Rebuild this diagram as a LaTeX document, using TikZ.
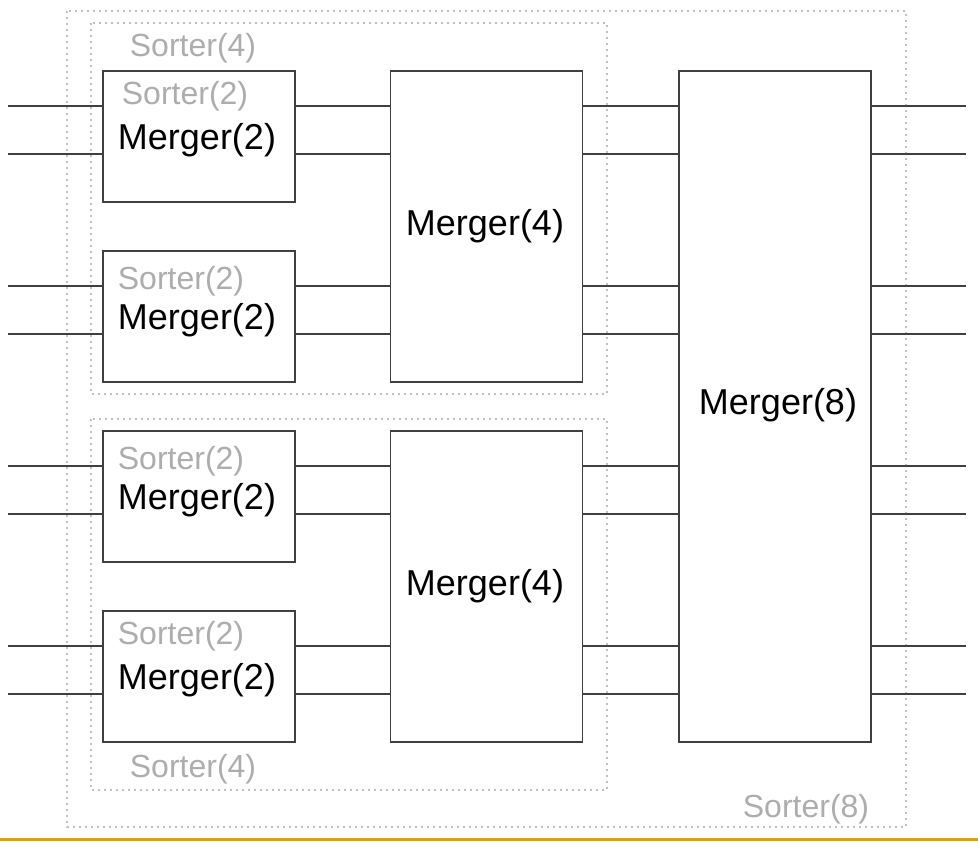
\documentclass[tikz,border=0pt]{standalone}
\usepackage{fontspec}
\setmainfont{Liberation Sans}
\definecolor{wire}{HTML}{404040}
\definecolor{dotc}{HTML}{C0C0C0}
\definecolor{lbl}{HTML}{ADADAD}
\definecolor{gold}{HTML}{D4A017}
\begin{document}
\begin{tikzpicture}[x=1pt,y=-1pt,
  box/.style={draw=wire,line width=1.8pt,fill=white,inner sep=0pt,minimum width=192pt},
  btext/.style={font=\fontsize{36}{40}\selectfont,inner sep=0pt},
  wirel/.style={draw=wire,line width=1.6pt},
  group/.style={draw=dotc,line width=1.6pt,dash pattern=on 1.6pt off 4.4pt},
  glabel/.style={text=lbl,font=\fontsize{32}{36}\selectfont,inner sep=0pt}]
\useasboundingbox (0,0) rectangle (978,848);
% groups
\draw[group] (67,11) rectangle (906,827);
\draw[group] (91,23) rectangle (607,394);
\draw[group] (91,419) rectangle (607,790);
% boxes
\node[box,minimum height=131pt] (m2a) at (199,136.5) {};
\node[box,minimum height=131pt] (m2b) at (199,316.5) {};
\node[box,minimum height=131pt] (m2c) at (199,496.5) {};
\node[box,minimum height=131pt] (m2d) at (199,676.5) {};
\node[box,minimum height=311pt] (m4a) at (486.5,226.5) {};
\node[box,minimum height=311pt] (m4b) at (486.5,586.5) {};
\node[box,minimum height=671pt] (m8) at (775,406.5) {};
% box texts
\node[btext] (t2a) at (197,140) {Merger(2)};
\node[btext] (t2b) at (197,320) {Merger(2)};
\node[btext] (t2c) at (197,500) {Merger(2)};
\node[btext] (t2d) at (197,680) {Merger(2)};
\node[btext] (t4a) at (485,226) {Merger(4)};
\node[btext] (t4b) at (485,586) {Merger(4)};
\node[btext] (t8) at (778,405) {Merger(8)};
% labels
\node[glabel] (s4a) at (193,48) {Sorter(4)};
\node[glabel] (s4b) at (193,769) {Sorter(4)};
\node[glabel] (s8) at (806,809) {Sorter(8)};
\node[glabel] (s2a) at (185,96) {Sorter(2)};
\node[glabel] (s2b) at (181,281) {Sorter(2)};
\node[glabel] (s2c) at (181,461) {Sorter(2)};
\node[glabel] (s2d) at (181,636) {Sorter(2)};
% wires
\foreach \y/\a/\b in {106/m2a/m4a,154/m2a/m4a,286/m2b/m4a,334/m2b/m4a,466/m2c/m4b,514/m2c/m4b,646/m2d/m4b,694/m2d/m4b}{
  \coordinate (in\y) at (8,\y);
  \coordinate (out\y) at (966,\y);
  \draw[wirel] (in\y) -- (\a.west |- in\y);
  \draw[wirel] (\a.east |- in\y) -- (\b.west |- in\y);
  \draw[wirel] (\b.east |- in\y) -- (m8.west |- in\y);
  \draw[wirel] (m8.east |- in\y) -- (out\y);
}
% bottom rule
\coordinate (gl) at (0,839);
\coordinate (gr) at (978,839);
\draw[draw=gold,line width=3pt] (gl) -- (gr);
\end{tikzpicture}
\end{document}
